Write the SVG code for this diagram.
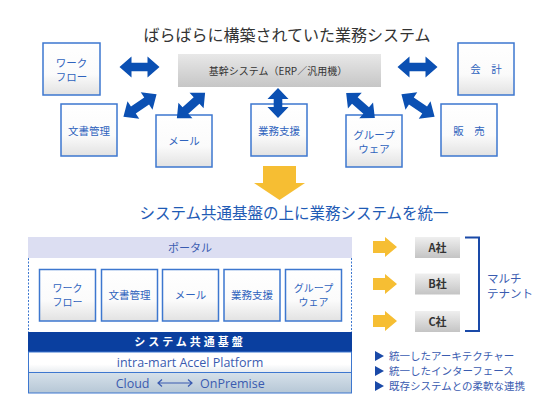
<svg xmlns="http://www.w3.org/2000/svg" width="558" height="418" viewBox="0 0 558 418">
<defs>
<linearGradient id="gBox" x1="0" y1="0" x2="0" y2="1"><stop offset="0" stop-color="#ffffff"/><stop offset="0.6" stop-color="#fbfbfb"/><stop offset="1" stop-color="#e2e2e2"/></linearGradient>
<linearGradient id="gBar" x1="0" y1="0" x2="0" y2="1"><stop offset="0" stop-color="#e8e8e8"/><stop offset="1" stop-color="#c6c6c6"/></linearGradient>
<linearGradient id="gCo" x1="0" y1="0" x2="0" y2="1"><stop offset="0" stop-color="#efefef"/><stop offset="1" stop-color="#c4c4c4"/></linearGradient>
<linearGradient id="gIm" x1="0" y1="0" x2="0" y2="1"><stop offset="0" stop-color="#ffffff"/><stop offset="0.6" stop-color="#ffffff"/><stop offset="1" stop-color="#e8ecf0"/></linearGradient>
<linearGradient id="gCl" x1="0" y1="0" x2="0" y2="1"><stop offset="0" stop-color="#d6e1ea"/><stop offset="1" stop-color="#b6c7d6"/></linearGradient>
<polygon id="dA40" points="-20,0 -8,-10.5 -8,-4.3 8,-4.3 8,-10.5 20,0 8,10.5 8,4.3 -8,4.3 -8,10.5"/>
<polygon id="dA38" points="-19,0 -7.5,-10.5 -7.5,-4.3 7.5,-4.3 7.5,-10.5 19,0 7.5,10.5 7.5,4.3 -7.5,4.3 -7.5,10.5"/>
<polygon id="dA30" points="-15,0 -4,-10.5 -4,-4.3 4,-4.3 4,-10.5 15,0 4,10.5 4,4.3 -4,4.3 -4,10.5"/>
<polygon id="yA" points="0,-6 12,-6 12,-10 24,0 12,10 12,6 0,6"/>
</defs>
<style>
text{font-family:"Noto Sans CJK JP","Noto Sans",sans-serif;}
.box{fill:url(#gBox);stroke:#3d77cf;stroke-width:1.5;}
.lbl{font-size:10.5px;fill:#2f63bd;text-anchor:middle;}
.lbs{font-size:10px;fill:#2f63bd;text-anchor:middle;}
.arr{fill:#0b50b3;}
.yel{fill:#f6be33;}
.co{fill:url(#gCo);}
.cot{font-size:11px;font-weight:bold;fill:#333;text-anchor:middle;}
.bul{font-size:10.5px;fill:#3a5bb0;}
.tri{fill:#1a4aa8;}
.lat{font-family:"Open Sans",sans-serif;font-size:12.5px;fill:#3a5bb0;}
</style>

<text x="287" y="41" font-size="16" fill="#333" text-anchor="middle">ばらばらに構築されていた業務システム</text>

<g id="core"><rect x="178" y="54" width="203" height="33" fill="url(#gBar)"/><text x="278" y="74.5" font-size="10" fill="#333" text-anchor="middle">基幹システム（ERP／汎用機）</text></g>

<g id="n-workflow"><rect class="box" x="43" y="43" width="57" height="52"/><text class="lbl" x="71.5" y="67">ワーク</text><text class="lbl" x="71.5" y="81">フロー</text></g>
<g id="n-bunsho"><rect class="box" x="61" y="104" width="56" height="52"/><text class="lbl" x="89" y="134.5">文書管理</text></g>
<g id="n-mail"><rect class="box" x="156" y="115" width="56" height="52"/><text class="lbl" x="184" y="145">メール</text></g>
<g id="n-gyomu"><rect class="box" x="251" y="104" width="56" height="52"/><text class="lbl" x="279" y="134.5">業務支援</text></g>
<g id="n-group"><rect class="box" x="346" y="115" width="56" height="52"/><text class="lbl" x="374" y="139">グループ</text><text class="lbl" x="374" y="153">ウェア</text></g>
<g id="n-hanbai"><rect class="box" x="441" y="104" width="56" height="52"/><text class="lbl" x="469" y="134.5">販　売</text></g>
<g id="n-kaikei"><rect class="box" x="458" y="43" width="56" height="52"/><text class="lbl" x="486" y="73">会　計</text></g>

<g id="connectors">
<use href="#dA40" class="arr" transform="translate(139.5,67)"/>
<use href="#dA40" class="arr" transform="translate(417.5,67)"/>
<use href="#dA40" class="arr" transform="translate(140,105.5) rotate(-34)"/>
<use href="#dA38" class="arr" transform="translate(191,105.5) rotate(-42)"/>
<use href="#dA30" class="arr" transform="translate(278,103) rotate(90)"/>
<use href="#dA38" class="arr" transform="translate(360.5,105.5) rotate(41)"/>
<use href="#dA40" class="arr" transform="translate(418,105.5) rotate(34)"/>
<polygon class="yel" points="263,166 296,166 296,183 305,183 279.5,200 254,183 263,183"/>
<use href="#yA" class="yel" transform="translate(373,247)"/>
<use href="#yA" class="yel" transform="translate(373,284)"/>
<use href="#yA" class="yel" transform="translate(373,321)"/>
<path d="M465,237.5 H479 V331 H465" fill="none" stroke="#1a4aa8" stroke-width="2"/>
</g>

<text x="294" y="219" font-size="15.5" fill="#1f5bb5" text-anchor="middle">システム共通基盤の上に業務システムを統一</text>

<g id="platform">
<rect x="28" y="237" width="324" height="21" fill="#dcdef2"/>
<text x="190" y="251.5" font-size="11" fill="#3a5bb0" text-anchor="middle">ポータル</text>
<path d="M28.5,258 V332 M351.5,258 V332" stroke="#3d77cf" stroke-width="1" stroke-dasharray="2,1.5" fill="none"/>
<rect x="28" y="332" width="324" height="20" fill="#0a3f9f"/>
<text x="190" y="346" font-size="11" font-weight="bold" fill="#fff" text-anchor="middle" letter-spacing="3">システム共通基盤</text>
<rect x="28.5" y="352" width="323" height="20.5" fill="url(#gIm)" stroke="#3d77cf" stroke-width="1"/>
<text class="lat" x="190" y="367" text-anchor="middle">intra-mart Accel Platform</text>
<rect x="28.5" y="372.5" width="323" height="20.5" fill="url(#gCl)" stroke="#3d77cf" stroke-width="1"/>
<text class="lat" x="149.5" y="387.5" text-anchor="end">Cloud</text>
<path d="M158,383 H192 M162,379.5 L158,383 L162,386.5 M188,379.5 L192,383 L188,386.5" fill="none" stroke="#3a5bb0" stroke-width="1.2"/>
<text class="lat" x="200" y="387.5">OnPremise</text>
</g>

<g id="m-workflow"><rect class="box" x="39.5" y="269.5" width="56" height="51.5"/><text class="lbs" x="67.5" y="292">ワーク</text><text class="lbs" x="67.5" y="306">フロー</text></g>
<g id="m-bunsho"><rect class="box" x="101.5" y="269.5" width="56" height="51.5"/><text class="lbl" x="129.5" y="299">文書管理</text></g>
<g id="m-mail"><rect class="box" x="162.5" y="269.5" width="56" height="51.5"/><text class="lbl" x="190.5" y="299">メール</text></g>
<g id="m-gyomu"><rect class="box" x="224" y="269.5" width="56" height="51.5"/><text class="lbl" x="252" y="299">業務支援</text></g>
<g id="m-group"><rect class="box" x="285.5" y="269.5" width="56" height="51.5"/><text class="lbs" x="313.5" y="292">グループ</text><text class="lbs" x="313.5" y="306">ウェア</text></g>

<g id="tenant-a"><rect class="co" x="415" y="237" width="45" height="21"/><text class="cot" x="437.5" y="251.5">A社</text></g>
<g id="tenant-b"><rect class="co" x="415" y="273.5" width="45" height="21"/><text class="cot" x="437.5" y="288">B社</text></g>
<g id="tenant-c"><rect class="co" x="415" y="311" width="45" height="21"/><text class="cot" x="437.5" y="325.5">C社</text></g>
<text x="487" y="283" font-size="11.5" fill="#3a5bb0">マルチ</text>
<text x="487" y="297.5" font-size="11.5" fill="#3a5bb0">テナント</text>

<g id="bullets">
<polygon class="tri" points="375,351 384,356 375,361"/><text class="bul" x="389" y="360">統一したアーキテクチャー</text>
<polygon class="tri" points="375,366 384,371 375,376"/><text class="bul" x="389" y="375">統一したインターフェース</text>
<polygon class="tri" points="375,381 384,386 375,391"/><text class="bul" x="389" y="390">既存システムとの柔軟な連携</text>
</g>
</svg>
